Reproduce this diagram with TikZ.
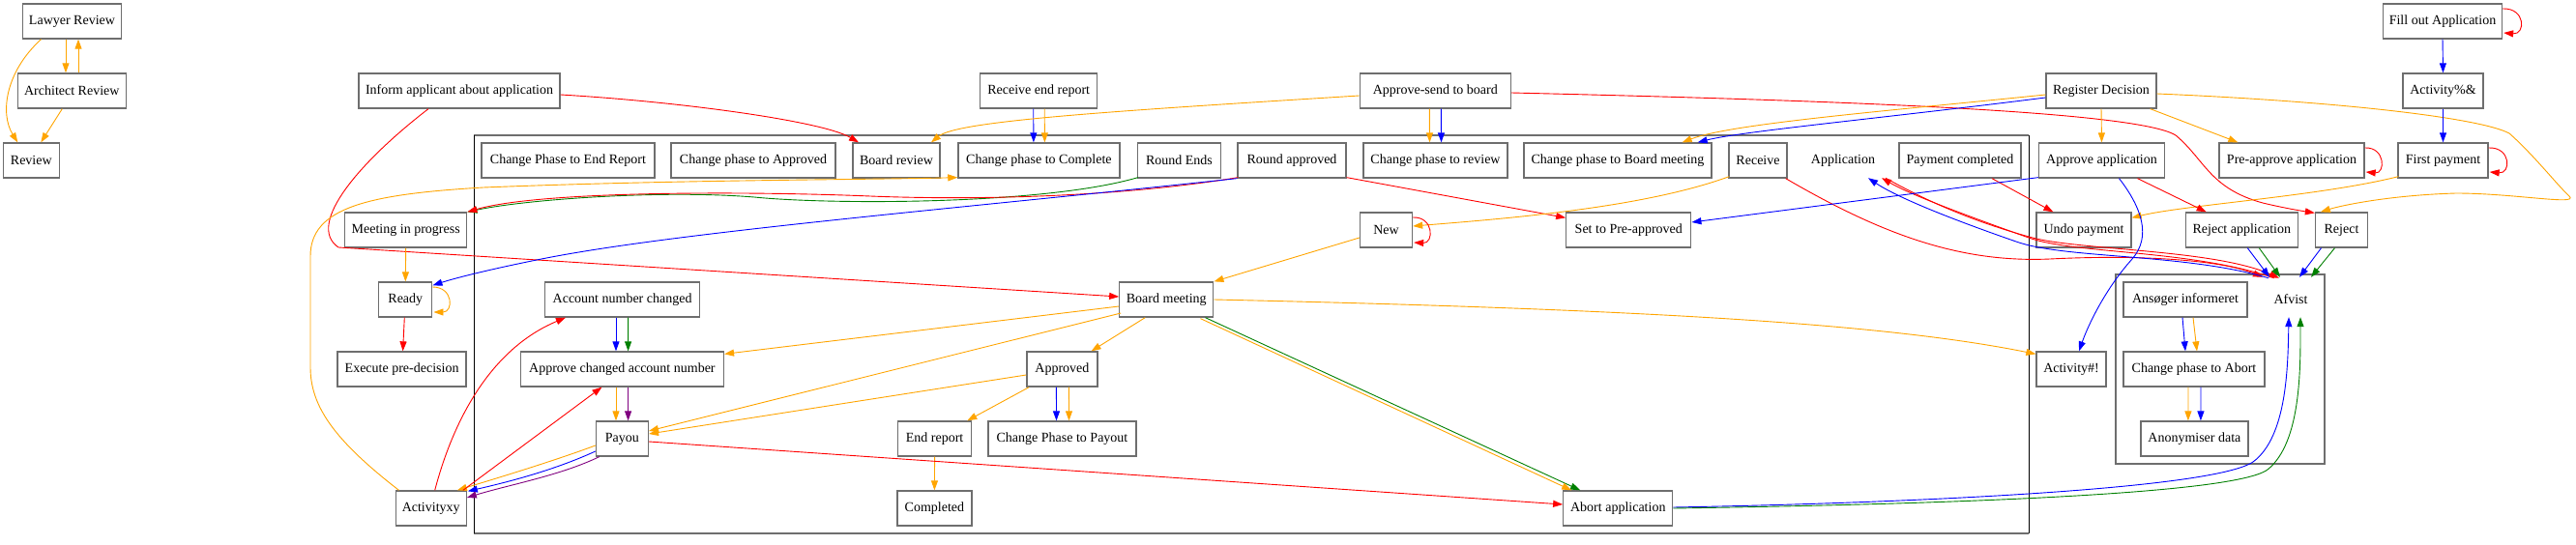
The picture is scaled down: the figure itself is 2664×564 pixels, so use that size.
\documentclass[tikz,border=0pt]{standalone}
\usepackage{fontspec}
\setmainfont{Liberation Serif}
\usetikzlibrary{arrows.meta,calc}
\definecolor{cO}{RGB}{255,165,0}
\definecolor{cB}{RGB}{0,0,255}
\definecolor{cR}{RGB}{255,0,0}
\definecolor{cG}{RGB}{0,128,0}
\definecolor{cP}{RGB}{128,0,128}
\definecolor{bgray}{RGB}{110,110,110}
\tikzset{
  box/.style={draw=bgray, line width=1.3pt, minimum height=36pt, inner sep=0pt, font=\fontsize{14pt}{16pt}\selectfont},
  plain/.style={minimum height=36pt, inner sep=0pt, font=\fontsize{14pt}{16pt}\selectfont},
  con/.style={line width=0.9pt, -{Triangle[length=10pt,width=7pt]}},
  eO/.style={con, draw=cO},
  eB/.style={con, draw=cB},
  eR/.style={con, draw=cR},
  eG/.style={con, draw=cG},
  eP/.style={con, draw=cP},
  clh/.style={draw=bgray, line width=1.3pt},
  clv/.style={draw=black, line width=0.8pt},
}
\begin{document}
\begin{tikzpicture}[x=1pt, y=-1pt]
\fill[white] (0,0) rectangle (2664,564);
\useasboundingbox (0,0) rectangle (2664,564);
% clusters
\draw[clh] (490,140) -- (2098,140);
\draw[clh] (490,552) -- (2098,552);
\draw[clv] (490,140) -- (490,552);
\draw[clv] (2098,140) -- (2098,552);
\draw[clh] (2188,284) rectangle (2404,480);
% row 0
\node[box, minimum width=102pt] (lawyer) at (74.5,22) {Lawyer Review};
\node[box, minimum width=123pt] (fill) at (2526,22) {Fill out Application};
% row 1
\node[box, minimum width=112pt] (architect) at (74.3,94) {Architect Review};
\node[box, minimum width=208pt] (inform) at (475,94) {Inform applicant about application};
\node[box, minimum width=121pt] (rer) at (1074.2,94) {Receive end report};
\node[box, minimum width=156pt] (asb) at (1484.3,94) {Approve-send to board};
\node[box, minimum width=114pt] (regd) at (2173,94) {Register Decision};
\node[box, minimum width=83pt] (act1) at (2526.5,94) {Activity\%\&};
% row 2
\node[box, minimum width=58pt] (review) at (32.3,166) {Review};
\node[box, minimum width=179pt] (cper) at (587.4,166) {Change Phase to End Report};
\node[box, minimum width=170pt] (cpa) at (779,166) {Change phase to Approved};
\node[box, minimum width=90pt] (br) at (927,166) {Board review};
\node[box, minimum width=167pt] (cpc) at (1074.4,166) {Change phase to Complete};
\node[box, minimum width=86pt] (rends) at (1219.5,166) {Round Ends};
\node[box, minimum width=112pt] (rappr) at (1336,166) {Round approved};
\node[box, minimum width=149pt] (cpr) at (1484.5,166) {Change phase to review};
\node[box, minimum width=194pt] (cpbm) at (1673,166) {Change phase to Board meeting};
\node[box, minimum width=60pt] (receive) at (1818,166) {Receive};
\node[plain, minimum width=60pt] (application) at (1906,166) {Application};
\node[box, minimum width=126pt] (paycomp) at (2027,166) {Payment completed};
\node[box, minimum width=130pt] (apprapp) at (2173.5,166) {Approve application};
\node[box, minimum width=150pt] (preappr) at (2370,166) {Pre-approve application};
\node[box, minimum width=93pt] (firstpay) at (2526.5,166) {First payment};
% row 3
\node[box, minimum width=126pt] (meeting) at (419.7,238) {Meeting in progress};
\node[box, minimum width=54pt] (new) at (1433.5,238) {New};
\node[box, minimum width=129pt] (setpre) at (1684.3,238) {Set to Pre-approved};
\node[box, minimum width=98pt] (undo) at (2155,238) {Undo payment};
\node[box, minimum width=116pt] (rejapp) at (2318.3,238) {Reject application};
\node[box, minimum width=54pt] (reject) at (2421.5,238) {Reject};
% row 4
\node[box, minimum width=55pt] (ready) at (419.3,310) {Ready};
\node[box, minimum width=160pt] (anc) at (643.6,310) {Account number changed};
\node[box, minimum width=97pt] (bm) at (1206.3,310) {Board meeting};
\node[box, minimum width=128pt] (ansoger) at (2260,310) {Ansøger informeret};
\node[plain, minimum width=40pt] (afvist) at (2369,310) {Afvist};
% row 5
\node[box, minimum width=133pt] (exec) at (415.6,382) {Execute pre-decision};
\node[box, minimum width=210pt] (acan) at (643.4,382) {Approve changed account number};
\node[box, minimum width=73pt] (approved) at (1098.4,382) {Approved};
\node[box, minimum width=72pt] (act2) at (2142,382) {Activity\#!};
\node[box, minimum width=146pt] (cpabort) at (2269,382) {Change phase to Abort};
% row 6
\node[box, minimum width=54pt] (payou) at (643.4,454) {Payou};
\node[box, minimum width=76pt] (endrep) at (966.6,454) {End report};
\node[box, minimum width=153pt] (cppay) at (1098.5,454) {Change Phase to Payout};
\node[box, minimum width=111pt] (anon) at (2269.4,454) {Anonymiser data};
% row 7
\node[box, minimum width=73pt] (actxy) at (445.7,526) {Activityxy};
\node[box, minimum width=77pt] (completed) at (966.4,526) {Completed};
\node[box, minimum width=113pt] (abort) at (1673.3,526) {Abort application};

% ---- edges ----
\draw[eO] ($(lawyer.south)+(-6.5,0)$) -- ($(architect.north)+(-6.3,0)$);
\draw[eO] ($(architect.north)+(6.7,0)$) -- ($(lawyer.south)+(6.5,0)$);
\draw[eO] ($(lawyer.south)+(-32,0)$) .. controls (5,75) and (0,118) .. ($(review.north)+(-14,0)$);
\draw[eO] ($(architect.south)+(-10,0)$) -- ($(review.north)+(10,0)$);

\draw[eR] ($(inform.east)+(0,4)$) .. controls (700,105) and (850,125) .. ($(br.north)+(-39,0)$);
\draw[eR] ($(inform.south)+(-32,0)$) .. controls (375,165) and (315,232) .. (350,256) -- ($(bm.west)+(0,-3)$);

\draw[eB] ($(rer.south)+(-5.5,0)$) -- ($(cpc.north)+(-5.5,0)$);
\draw[eO] ($(rer.south)+(6,0)$) -- ($(cpc.north)+(6,0)$);

\draw[eO] ($(asb.west)+(0,5)$) .. controls (1150,115) and (990,125) .. ($(br.north)+(36,0)$);
\draw[eO] ($(asb.south)+(-6,0)$) -- ($(cpr.north)+(-6,0)$);
\draw[eB] ($(asb.south)+(6,0)$) -- ($(cpr.north)+(6,0)$);
\draw[eR] ($(asb.east)+(0,2)$) .. controls (1900,104) and (2210,115) .. (2250,140) .. controls (2280,165) and (2285,195) .. (2340,210) .. controls (2365,216) and (2385,219) .. ($(reject.north west)+(0,1)$);

\draw[eO] ($(regd.west)+(0,4)$) .. controls (1950,115) and (1790,128) .. ($(cpbm.north east)+(-31,0)$);
\draw[eB] ($(regd.west)+(0,7)$) .. controls (1950,122) and (1800,136) .. ($(cpbm.north east)+(-15,0)$);
\draw[eO] (regd.south) -- (apprapp.north);
\draw[eO] ($(regd.south east)+(-7,0)$) -- ($(preappr.north west)+(20,0)$);
\draw[eO] ($(regd.east)+(0,3)$) .. controls (2420,105) and (2565,122) .. (2595,138) .. controls (2620,160) and (2645,192) .. (2657,203) .. controls (2668,213) and (2600,200) .. (2540,200) .. controls (2470,202) and (2420,213) .. ($(reject.north west)+(6,0)$);

\draw[eR] ($(fill.east)+(0,-13)$) .. controls (2612,8) and (2612,36) .. ($(fill.east)+(1,12)$);
\draw[eB] (fill.south) -- (act1.north);
\draw[eB] (act1.south) -- (firstpay.north);
\draw[eR] ($(firstpay.east)+(0,-13)$) .. controls (2597,152) and (2597,180) .. ($(firstpay.east)+(1,12)$);
\draw[eR] ($(preappr.east)+(0,-13)$) .. controls (2467,152) and (2467,180) .. ($(preappr.east)+(1,12)$);
\draw[eO] ($(firstpay.south west)+(1,-2)$) .. controls (2400,203) and (2260,212) .. ($(undo.north east)+(0,6)$);

\draw[eG] ($(rends.south west)+(1,-1)$) .. controls (1080,212) and (860,212) .. (780,204) .. controls (680,196) and (540,207) .. (meeting.north east);
\draw[eR] ($(rappr.south west)+(1,-1)$) .. controls (1150,205) and (1000,207) .. (900,203) .. controls (780,198) and (560,197) .. (meeting.north east);
\draw[eB] (rappr.south west) .. controls (1000,215) and (700,240) .. (560,268) .. controls (505,279) and (470,288) .. ($(ready.north east)+(0,4)$);
\draw[eR] ($(rappr.south east)+(0,-1)$) -- ($(setpre.north west)+(0,6)$);

\draw[eO] ($(receive.south west)+(1,-2)$) .. controls (1700,215) and (1560,226) .. ($(new.east)+(0,-4)$);
\draw[eR] ($(new.east)+(0,-13)$) .. controls (1483,224) and (1483,252) .. ($(new.east)+(1,13)$);
\draw[eO] ($(new.west)+(0,8)$) -- (bm.north east);

\draw[eR] ($(receive.south east)+(-2,0)$) .. controls (1950,245) and (2030,272) .. (2120,268) .. controls (2220,263) and (2300,270) .. ($(afvist.north)+(-29,-5)$);
\draw[eB] ($(afvist.north)+(-23,-4)$) .. controls (2260,262) and (2135,268) .. (2085,250) .. controls (2010,224) and (1960,203) .. ($(application.south)+(26,0)$);
\draw[eR] ($(afvist.north)+(-17,-4)$) .. controls (2265,258) and (2145,263) .. (2098,246) .. controls (2025,220) and (1975,201) .. ($(application.south)+(40,0)$);
\draw[eR] ($(application.south)+(44,0)$) .. controls (1985,204) and (2035,228) .. (2102,246) .. controls (2150,259) and (2290,258) .. ($(afvist.north)+(-12,-4)$);

\draw[eR] ($(paycomp.south)+(33,0)$) -- ($(undo.north west)+(18,0)$);
\draw[eB] ($(apprapp.south west)+(0,-1)$) -- ($(setpre.east)+(0,-8)$);
\draw[eB] ($(apprapp.south)+(18,0)$) .. controls (2215,215) and (2225,245) .. (2205,268) .. controls (2178,298) and (2160,335) .. ($(act2.north)+(8,0)$);
\draw[eR] ($(apprapp.south)+(37,0)$) -- ($(rejapp.north west)+(22,0)$);
\draw[eB] ($(rejapp.south)+(6,0)$) -- ($(afvist.north)+(-22,-5)$);
\draw[eG] ($(rejapp.south)+(18,0)$) -- ($(afvist.north)+(-11,-5)$);
\draw[eB] ($(reject.south)+(-21,0)$) -- ($(afvist.north)+(9,-5)$);
\draw[eG] ($(reject.south)+(-7,0)$) -- ($(afvist.north)+(21,-5)$);

\draw[eB] ($(ansoger.south)+(-3,0)$) -- ($(cpabort.north)+(-9,0)$);
\draw[eO] ($(ansoger.south)+(8,0)$) -- ($(cpabort.north)+(3,0)$);
\draw[eO] ($(cpabort.south)+(-6,0)$) -- ($(anon.north)+(-6.5,0)$);
\draw[eB] ($(cpabort.south)+(7,0)$) -- ($(anon.north)+(6.5,0)$);
\draw[eB] ($(abort.east)+(0,-1)$) .. controls (2000,520) and (2290,505) .. (2330,478) .. controls (2365,452) and (2366,380) .. ($(afvist.south)+(-2,0)$);
\draw[eG] (abort.east) .. controls (2000,522) and (2310,512) .. (2345,486) .. controls (2380,458) and (2379,380) .. ($(afvist.south)+(10,0)$);

\draw[eO] ($(bm.west)+(0,7)$) -- ($(acan.north east)+(0,3)$);
\draw[eO] ($(bm.west)+(2,14)$) -- ($(payou.east)+(0,-8)$);
\draw[eO] ($(approved.west)+(0,6)$) -- ($(payou.east)+(0,-5)$);
\draw[eO] ($(bm.south)+(-22,0)$) -- ($(approved.north east)+(-7,0)$);
\draw[eO] ($(approved.south west)+(3,0)$) -- ($(endrep.north east)+(-5,0)$);
\draw[eB] ($(approved.south)+(-6,0)$) -- ($(cppay.north)+(-6,0)$);
\draw[eO] ($(approved.south)+(7,0)$) -- ($(cppay.north)+(7,0)$);
\draw[eO] (endrep.south) -- (completed.north);
\draw[eG] ($(bm.south east)+(-9,0)$) -- ($(abort.north west)+(18,0)$);
\draw[eO] ($(bm.south east)+(-14,1)$) -- ($(abort.north west)+(9,0)$);
\draw[eO] (bm.east) .. controls (1700,320) and (1950,335) .. ($(act2.north west)+(0,3)$);

\draw[eB] ($(anc.south)+(-6.6,0)$) -- ($(acan.north)+(-6.4,0)$);
\draw[eG] ($(anc.south)+(6,0)$) -- ($(acan.north)+(6.2,0)$);
\draw[eO] ($(acan.south)+(-6.4,0)$) -- ($(payou.north)+(-6.4,0)$);
\draw[eP] ($(acan.south)+(6.2,0)$) -- ($(payou.north)+(6.2,0)$);
\draw[eO] ($(payou.west)+(0,7)$) .. controls (570,478) and (510,496) .. ($(actxy.north east)+(-10,0)$);
\draw[eB] ($(payou.west)+(0,13)$) .. controls (570,488) and (520,500) .. ($(actxy.north east)+(1,1)$);
\draw[eP] ($(payou.south west)+(4,0)$) .. controls (580,492) and (525,502) .. ($(actxy.east)+(0,-11)$);
\draw[eR] ($(payou.east)+(0,3)$) -- ($(abort.west)+(0,-4)$);
\draw[eR] ($(actxy.north)+(4,0)$) .. controls (470,430) and (510,360) .. ($(anc.south west)+(22,0)$);
\draw[eR] ($(actxy.north east)+(-4,0)$) -- ($(acan.south)+(-21,0)$);
\draw[eO] ($(actxy.north west)+(4,0)$) .. controls (345,455) and (321,420) .. (321,380) -- (321,265) .. controls (321,215) and (380,201) .. (500,194) .. controls (700,186) and (900,186) .. ($(cpc.south west)+(0,-1)$);

\draw[eO] (meeting.south) -- (ready.north);
\draw[eO] ($(ready.east)+(0,-13)$) .. controls (469,297) and (469,323) .. ($(ready.east)+(1,13)$);
\draw[eR] ($(ready.south)+(-1,0)$) -- ($(exec.north)+(1,0)$);
\end{tikzpicture}
\end{document}
